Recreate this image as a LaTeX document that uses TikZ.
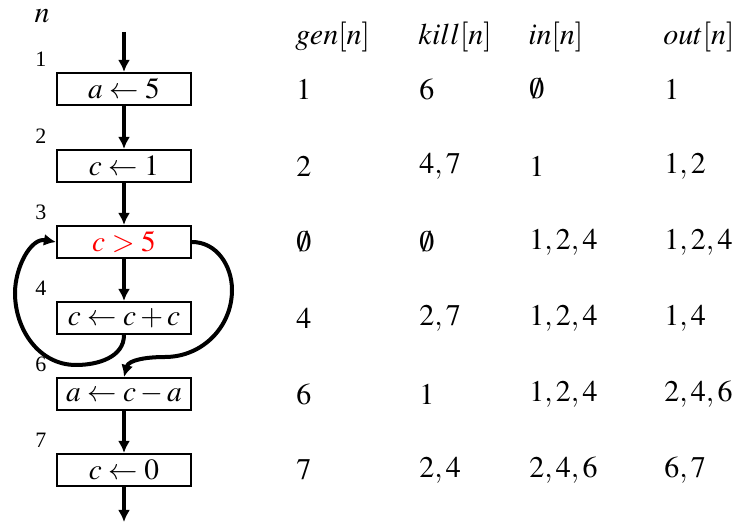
\documentclass[tikz,border=0pt]{standalone}
\usepackage{mathptmx}
\usepackage{fontspec}
\setmainfont{Liberation Serif}
\usetikzlibrary{positioning,arrows.meta}

\begin{document}
\begin{tikzpicture}[x=0.75pt, y=-0.75pt,
                    stmt/.style={draw, line width=1.6pt, minimum width=100.5pt, minimum height=24pt,
                                 inner sep=0pt, font=\fontsize{22}{26}\selectfont},
                    num/.style={inner sep=0pt, font=\fontsize{16.5}{19}\selectfont},
                    cell/.style={anchor=west, inner sep=0pt, font=\fontsize{22.5}{26}\selectfont},
                    flow/.style={-{Latex[length=9pt,width=9pt]}, line width=3pt}
   ]
   \useasboundingbox (0,0) rectangle (751,531);
   \node[cell, anchor=center] (n) at (42,16) {$n$};
   % Statements
   \node[stmt] (b1) at (124,89) {$a \leftarrow 5$};
   \node[stmt] (b2) at (124,166) {$c \leftarrow 1$};
   \node[stmt] (b3) at (124,242) {\color{red}$c > 5$};
   \node[stmt] (b4) at (124,318) {$c \leftarrow c + c$};
   \node[stmt] (b6) at (124,394) {$a \leftarrow c - a$};
   \node[stmt] (b7) at (124,470) {$c \leftarrow 0$};
   \node[num, above left=4pt and 7pt of b1.north west] (n1) {1};
   \node[num, above left=4pt and 7pt of b2.north west] (n2) {2};
   \node[num, above left=4pt and 7pt of b3.north west] (n3) {3};
   \node[num, above left=4pt and 7pt of b4.north west] (n4) {4};
   \node[num, above left=4pt and 7pt of b6.north west] (n6) {6};
   \node[num, above left=4pt and 7pt of b7.north west] (n7) {7};
   \coordinate (start) at (124,32);
   \coordinate (end) at (124,522);
   \coordinate (l1) at (76,365);
   \coordinate (l2) at (15,293);
   \coordinate (r1) at (232,290);
   \coordinate (r2) at (165,357);

   % Table
   \node[cell] (hg) at (295,37) {$gen[n]$};
   \node[cell] (hk) at (418,37) {$kill[n]$};
   \node[cell] (hi) at (528,37) {$in[n]$};
   \node[cell] (ho) at (663,37) {$out[n]$};
   \foreach \r/\y/\g/\k/\i/\o in {1/89/1/6/\emptyset/1,
                                  2/166/2/{4,7}/1/{1,2},
                                  3/242/\emptyset/\emptyset/{1,2,4}/{1,2,4},
                                  4/318/4/{2,7}/{1,2,4}/{1,4},
                                  6/394/6/1/{1,2,4}/{2,4,6},
                                  7/470/7/{2,4}/{2,4,6}/{6,7}}{
      \node[cell] (g\r) at (296,\y) {$\g$};
      \node[cell] (k\r) at (419,\y) {$\k$};
      \node[cell] (i\r) at (529,\y) {$\i$};
      \node[cell] (o\r) at (664,\y) {$\o$};
   }

    \draw[flow] (start) -- (b1);
    \draw[flow] (b1) -- (b2);
    \draw[flow] (b2) -- (b3);
    \draw[flow] (b3) -- (b4);
    \draw[flow] (b6) -- (b7);
    \draw[flow] (b7) -- (end);
    \draw[flow] (b4.south) to[out=-90, in=0] (l1) to[out=180, in=-90] (l2)
                to[out=90, in=170] (b3.west);
    \draw[flow] (b3.east) to[out=0, in=90] (r1) to[out=-90, in=0] (r2)
                to[out=180, in=75] (b6.north);
    \end{tikzpicture}
\end{document}
